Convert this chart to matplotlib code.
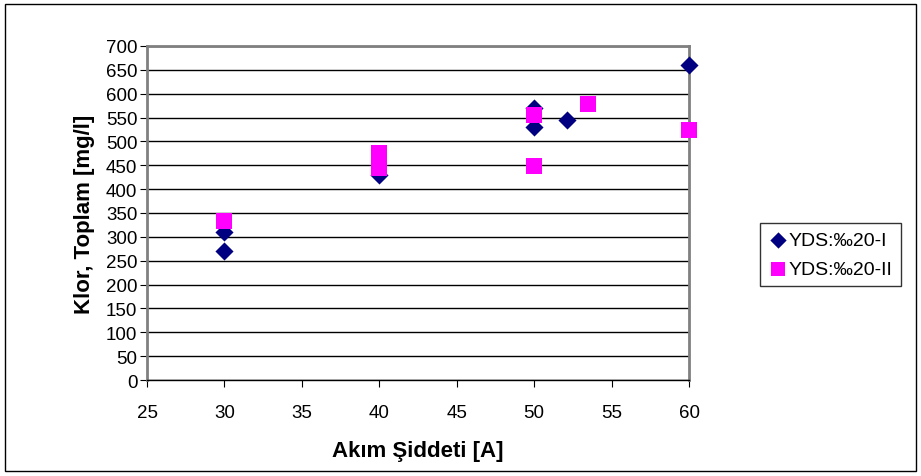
import matplotlib.pyplot as plt
from matplotlib.patches import Rectangle

plt.rcParams['font.family'] = ['Liberation Sans', 'DejaVu Sans']

# YDS:‰20-I (lacivert elmas)
x1 = [30, 30, 40, 50, 50, 52.1, 60]
y1 = [310, 270, 430, 570, 530, 545, 660]

# YDS:‰20-II (pembe kare)
x2 = [30, 40, 40, 40, 50, 50, 53.5, 60]
y2 = [333, 475, 460, 445, 555, 448, 578, 524]

labels = ['YDS:‰20-I', 'YDS:‰20-II']
xticks = [25, 30, 35, 40, 45, 50, 55, 60]
yticks = list(range(0, 701, 50))

fig = plt.figure(figsize=(9.21, 4.77), dpi=100)
ax = fig.add_axes([147/921, 1 - 381/477, (689-147)/921, (381-47)/477])

ax.scatter(x1, y1, marker='D', s=85, color='#000080', label=labels[0], zorder=3,
           linewidths=0, clip_on=False)
ax.scatter(x2, y2, marker='s', s=120, color='#FF00FF', label=labels[1], zorder=3,
           linewidths=0, clip_on=False)

ax.set_xlim(25, 60)
ax.set_ylim(0, 700)
ax.set_xticks(xticks)
ax.set_yticks(yticks)
ax.yaxis.grid(True, color='black', linewidth=1)
ax.set_axisbelow(True)
for s in ['left', 'right', 'top']:
    ax.spines[s].set_color('#808080')
    ax.spines[s].set_linewidth(2)
ax.spines['bottom'].set_color('black')
ax.spines['bottom'].set_linewidth(1)
ax.tick_params(axis='both', direction='out', length=5, labelsize=13.5, colors='black')
ax.tick_params(axis='x', pad=12)
ax.tick_params(axis='y', pad=2)

ax.set_xlabel('Akım Şiddeti [A]', fontsize=16, fontweight='bold', labelpad=14)
ax.set_ylabel('Klor, Toplam [mg/l]', fontsize=16, fontweight='bold', labelpad=8)

leg = fig.legend(loc='upper left', bbox_to_anchor=(760/921, 1 - 224/477),
                 fontsize=14, frameon=True, fancybox=False, edgecolor='black',
                 handletextpad=0.0, handlelength=1.0, borderpad=0.45,
                 labelspacing=0.55, borderaxespad=0, markerscale=0.9)
leg.get_frame().set_linewidth(1)

fig.patches.append(Rectangle((5/921, 5/477), 911/921, 467/477, transform=fig.transFigure,
                             fill=False, edgecolor='black', linewidth=1))

fig.savefig('out.png', dpi=100)
